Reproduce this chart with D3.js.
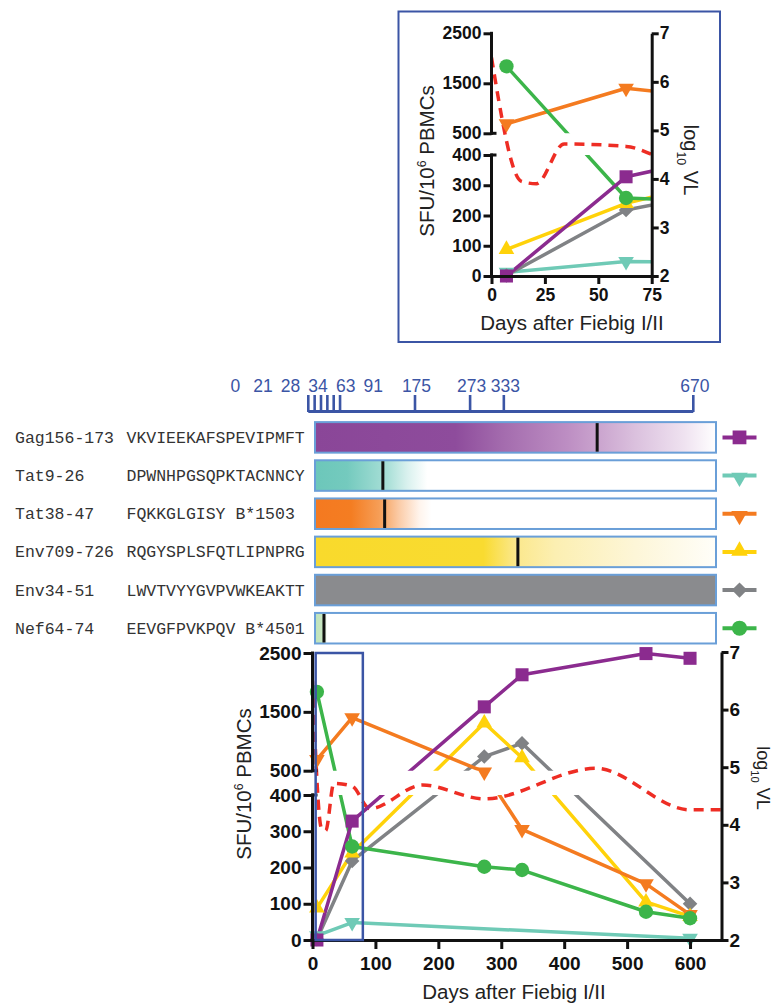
<!DOCTYPE html>
<html><head><meta charset="utf-8">
<script src="https://cdn.jsdelivr.net/npm/d3@7"></script>
<style>body{margin:0;background:#fff} svg{display:block}</style>
</head><body><svg id="c" width="773" height="1003"></svg>
<script>
// ---------------- DATA ----------------
const peptides = ["Gag156-173","Tat9-26","Tat38-47","Env709-726","Env34-51","Nef64-74"];
const sequences = ["VKVIEEKAFSPEVIPMFT","DPWNHPGSQPKTACNNCY","FQKKGLGISY B*1503","RQGYSPLSFQTLIPNPRG","LWVTVYYGVPVWKEAKTT","EEVGFPVKPQV B*4501"];
const markerDays = [499, 139, 141, 358, null, 45];
const timelineDays = [0,21,28,34,63,91,175,273,333,670];

const gag    = [[7,0],[63,328],[273,1585],[333,2130],[530,2490],[600,2410]];
const tat9   = [[7,12],[63,48],[600,5]];
const tat38  = [[7,690],[63,1400],[273,495],[333,305],[530,155],[600,70]];
const env709 = [[7,88],[63,240],[273,1310],[333,720],[530,105],[600,65]];
const env34  = [[7,2],[63,218],[273,740],[333,965],[600,100]];
const nef    = [[7,1840],[63,258],[273,202],[333,193],[530,78],[600,60]];
const viralLoad = [[0,6.5],[14,3.95],[21,3.9],[34,4.72],[63,4.67],[91,4.28],[175,4.69],[273,4.45],[450,4.98],[600,4.26],[670,4.26]];

const sfuTicks = [0,100,200,300,400,500,1500,2500];
const vlTicks = [2,3,4,5,6,7];
const dayTicks = [0,100,200,300,400,500,600];
const insetDayTicks = [0,25,50,75];

// ---------------- STYLES ----------------
const series = [
  {data: tat9,   color: "#6fcab6", shape: "tdown"},
  {data: env34,  color: "#808285", shape: "diamond"},
  {data: env709, color: "#ffd20a", shape: "tup"},
  {data: tat38,  color: "#f47b20", shape: "tdown"},
  {data: nef,    color: "#3cb54a", shape: "circle"},
  {data: gag,    color: "#8b2b8f", shape: "square"}
];
const legendStyle = [
  {color:"#8b2b8f", shape:"square"},
  {color:"#6fcab6", shape:"tdown"},
  {color:"#f47b20", shape:"tdown"},
  {color:"#ffd20a", shape:"tup"},
  {color:"#808285", shape:"diamond"},
  {color:"#3cb54a", shape:"circle"}
];
const barFills = [
  [[0,'#8a4698'],[0.35,'#8e4c9c'],[0.47,'#a46cae'],[0.63,'#bd8ec3'],[0.7,'#c9a2cd'],[0.8,'#dbc1de'],[0.92,'#efe2f0'],[1,'#ffffff']],
  [[0,'#6cc7ba'],[0.08,'#74cabe'],[0.18,'#a8dfd7'],[0.23,'#d9f1ee'],[0.28,'#ffffff'],[1,'#ffffff']],
  [[0,'#f47920'],[0.09,'#f47d22'],[0.16,'#f69e57'],[0.21,'#fbcca8'],[0.26,'#fff4ec'],[0.29,'#ffffff'],[1,'#ffffff']],
  [[0,'#f9da2c'],[0.42,'#f9db30'],[0.5,'#fbe88c'],[0.6,'#fcefb2'],[0.8,'#fdf6d8'],[1,'#fffef9']],
  [[0,'#8a8b8e'],[1,'#8a8b8e']],
  [[0,'#bfe3b9'],[0.022,'#c9e7c4'],[0.03,'#ffffff'],[1,'#ffffff']]
];
const BLUE = "#3b55a5";
const SANS = "'Liberation Sans', Arial, sans-serif";
const MONO = "'Liberation Mono', 'Courier New', monospace";

const svg = d3.select("#c");
const defs = svg.append("defs");

function symPath(shape, size) {
  if (shape === "square") return d3.symbol(d3.symbolSquare, size*1.0)();
  if (shape === "circle") return d3.symbol(d3.symbolCircle, size*0.95)();
  if (shape === "diamond") return d3.symbol(d3.symbolSquare, size*0.62)();
  return d3.symbol(d3.symbolTriangle, size*0.62)();
}
function symRot(shape) {
  if (shape === "tdown") return 180;
  if (shape === "diamond") return 45;
  return 0;
}

// ---------------- PANEL DRAWER ----------------
function drawPanel(cfg) {
  const {x, y, v, id, maxDay, xTicks, tickFont, titleFont, vlFont, tickLen} = cfg;
  const g = svg.append("g");
  const x0 = x(0), x1 = x(maxDay);
  const cpBand = defs.append("clipPath").attr("id", "band" + id);
  cpBand.append("rect").attr("x", x0 - 10).attr("width", x1 - x0 + 10)
    .attr("y", y(2500) - 20).attr("height", y(500) - y(2500) + 20);
  cpBand.append("rect").attr("x", x0 - 10).attr("width", x1 - x0 + 10)
    .attr("y", y(400)).attr("height", y(0) - y(400) + 10);
  const cpX = defs.append("clipPath").attr("id", "px" + id);
  cpX.append("rect").attr("x", x0).attr("width", x1 - x0).attr("y", v(7) - 30).attr("height", v(2) - v(7) + 40);

  g.append("path").datum(viralLoad)
    .attr("clip-path", `url(#px${id})`)
    .attr("d", d3.line().x(d => x(d[0])).y(d => v(d[1])).curve(d3.curveMonotoneX))
    .attr("fill", "none").attr("stroke", "#ee2d24").attr("stroke-width", 3.5)
    .attr("stroke-dasharray", "10,7");

  const line = d3.line().x(d => x(d[0])).y(d => y(d[1]));
  const lg = g.append("g").attr("clip-path", `url(#px${id})`);
  series.forEach(s => {
    lg.append("path").datum(s.data)
      .attr("clip-path", `url(#band${id})`)
      .attr("d", line).attr("fill", "none")
      .attr("stroke", s.color).attr("stroke-width", 3.5).attr("stroke-linejoin", "round");
  });
  series.forEach(s => {
    g.selectAll(null).data(s.data.filter(d => d[0] <= maxDay)).enter().append("path")
      .attr("d", symPath(s.shape, 170))
      .attr("transform", d => `translate(${x(d[0])},${y(d[1])}) rotate(${symRot(s.shape)})`)
      .attr("fill", s.color);
  });

  const ax = svg.append("g");
  const gl = ax.append("g").attr("transform", `translate(${x0},0)`)
    .call(d3.axisLeft(y).tickValues(sfuTicks).tickFormat(d3.format("d")).tickSize(tickLen).tickPadding(2).tickSizeOuter(0));
  gl.select(".domain").remove();
  gl.append("line").attr("y1", y(0) + 1.5).attr("y2", y(400) - 1.5);
  gl.append("line").attr("y1", y(500) + 1.5).attr("y2", y(2500) - 1.5);
  gl.append("line").attr("x1", -1).attr("x2", 5).attr("y1", y(400)).attr("y2", y(400));
  gl.append("line").attr("x1", -1).attr("x2", 5).attr("y1", y(500)).attr("y2", y(500));
  ax.append("g").attr("transform", `translate(${x1},0)`)
    .call(d3.axisRight(v).tickValues(vlTicks).tickFormat(d3.format("d")).tickSize(7).tickPadding(1).tickSizeOuter(0));
  ax.append("g").attr("transform", `translate(0,${y(0)})`)
    .call(d3.axisBottom(x).tickValues(xTicks).tickFormat(d3.format("d")).tickSize(tickLen).tickPadding(cfg.xPad).tickSizeOuter(0));
  ax.selectAll("line").attr("stroke", "#111").attr("stroke-width", 3);
  ax.selectAll(".domain").attr("stroke", "#111").attr("stroke-width", 3);
  ax.selectAll("text").attr("font-family", SANS).attr("font-weight", "bold")
    .attr("font-size", tickFont).attr("fill", "#111");

  svg.append("text").attr("x", cfg.xTitle[0]).attr("y", cfg.xTitle[1])
    .attr("text-anchor", "middle").attr("font-family", SANS).attr("font-size", titleFont)
    .attr("fill", "#222").text("Days after Fiebig I/II");
  const yt = svg.append("text")
    .attr("transform", `translate(${cfg.yTitle[0]},${cfg.yTitle[1]}) rotate(-90)`)
    .attr("text-anchor", "middle").attr("font-family", SANS).attr("font-size", titleFont).attr("fill", "#222");
  yt.append("tspan").text("SFU/10");
  yt.append("tspan").attr("dy", -titleFont*0.4).attr("font-size", titleFont*0.6).text("6");
  yt.append("tspan").attr("dy", titleFont*0.4).text(" PBMCs");
  const vt = svg.append("text")
    .attr("transform", `translate(${cfg.vTitle[0]},${cfg.vTitle[1]}) rotate(90)`)
    .attr("text-anchor", "middle").attr("font-family", SANS).attr("font-size", vlFont).attr("fill", "#222");
  vt.append("tspan").text("log");
  vt.append("tspan").attr("dy", vlFont*0.35).attr("font-size", vlFont*0.62).text("10");
  vt.append("tspan").attr("dy", -vlFont*0.35).text(" VL");
}

// ---------------- INSET ----------------
svg.append("rect").attr("x", 398.5).attr("y", 11.5).attr("width", 321.5).attr("height", 330.5)
  .attr("fill", "none").attr("stroke", BLUE).attr("stroke-width", 2);

const xI = d3.scaleLinear().domain([0, 75]).range([491.5, 651.7]);
const yI = d3.scaleLinear().domain([0, 400, 500, 2500]).range([276, 155, 133.3, 33.3]);
const vI = d3.scaleLinear().domain([2, 7]).range([276, 33.3]);
drawPanel({x: xI, y: yI, v: vI, id: "I", maxDay: 75, xTicks: insetDayTicks, tickFont: 17.5,
  titleFont: 20.5, vlFont: 20, tickLen: 8, xPad: 5,
  xTitle: [572, 330], yTitle: [434, 161], vTitle: [684, 160]});

// ---------------- TIMELINE ----------------
const tl = d3.scaleLinear().domain([0, 91, 175, 670]).range([308.3, 340, 415, 693.3]);
const tg = svg.append("g");
tg.append("line").attr("x1", tl(0)).attr("x2", tl(670)).attr("y1", 411.5).attr("y2", 411.5)
  .attr("stroke", BLUE).attr("stroke-width", 3);
timelineDays.forEach((d, i) => {
  const clustered = i < 6;
  const tx = clustered ? tl(0) + i * 6.35 : tl(d);
  const lx = clustered ? tl(91) + 33.3 - (5 - i) * 27.6 : tl(d) + 1.5;
  tg.append("line").attr("x1", tx).attr("x2", tx).attr("y1", 395).attr("y2", 412)
    .attr("stroke", BLUE).attr("stroke-width", 2.6);
  tg.append("text").attr("x", lx).attr("y", 392).attr("text-anchor", "middle")
    .attr("font-family", SANS).attr("font-size", 17.5).attr("fill", BLUE).text(d);
});

// ---------------- BARS ----------------
const band = d3.scaleBand().domain(peptides).range([418.3, 647.3]).paddingInner(0.2).paddingOuter(0.1);
const barX0 = 315, barX1 = 716;
peptides.forEach((p, i) => {
  const gid = "bg" + i;
  const lgr = defs.append("linearGradient").attr("id", gid).attr("x1", 0).attr("x2", 1).attr("y1", 0).attr("y2", 0);
  barFills[i].forEach(s => lgr.append("stop").attr("offset", s[0]).attr("stop-color", s[1]));
  const yb = band(p), h = band.bandwidth(), cy = yb + h / 2;
  svg.append("rect").attr("x", barX0).attr("y", yb).attr("width", barX1 - barX0).attr("height", h)
    .attr("fill", `url(#${gid})`).attr("stroke", "#6a9fd8").attr("stroke-width", 2);
  if (markerDays[i] != null) {
    svg.append("line").attr("x1", tl(markerDays[i])).attr("x2", tl(markerDays[i]))
      .attr("y1", yb + 1).attr("y2", yb + h - 1).attr("stroke", "#111").attr("stroke-width", 3);
  }
  svg.append("text").attr("x", 15).attr("y", cy + 5.5).attr("font-family", MONO).attr("font-size", 16.5)
    .attr("fill", "#333").text(p);
  svg.append("text").attr("x", 126.5).attr("y", cy + 5.5).attr("font-family", MONO).attr("font-size", 16.5)
    .attr("fill", "#333").text(sequences[i]);
  const ls = legendStyle[i];
  svg.append("line").attr("x1", 722.5).attr("x2", 756.5).attr("y1", cy).attr("y2", cy)
    .attr("stroke", ls.color).attr("stroke-width", 4);
  svg.append("path").attr("d", symPath(ls.shape, 190))
    .attr("transform", `translate(739.5,${cy + (ls.shape === "tdown" ? 2 : ls.shape === "tup" ? -1 : 0)}) rotate(${symRot(ls.shape)})`)
    .attr("fill", ls.color);
});

// ---------------- MAIN PANEL ----------------
const xB = d3.scaleLinear().domain([0, 650]).range([312.5, 721.5]);
const yB = d3.scaleLinear().domain([0, 400, 500, 2500]).range([940, 795, 770.7, 653]);
const vB = d3.scaleLinear().domain([2, 7]).range([940, 652]);
drawPanel({x: xB, y: yB, v: vB, id: "B", maxDay: 650, xTicks: dayTicks, tickFont: 19,
  titleFont: 20.5, vlFont: 18, tickLen: 9, xPad: 8,
  xTitle: [514, 999], yTitle: [251, 784], vTitle: [757, 778]});

svg.append("rect").attr("x", xB(5)).attr("y", yB(2500)).attr("width", xB(80) - xB(5)).attr("height", yB(0) - yB(2500))
  .attr("fill", "none").attr("stroke", BLUE).attr("stroke-width", 2.5);
</script></body></html>
